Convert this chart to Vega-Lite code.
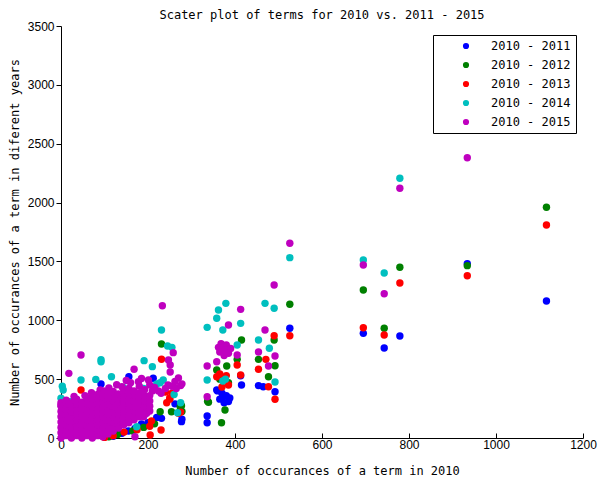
{
"$schema": "https://vega.github.io/schema/vega-lite/v6.json",
"autosize": "none",
"width": 522, "height": 412,
"padding": {"left": 61, "top": 26, "right": 15, "bottom": 40},
"background": "white",
"config": {"view": {"stroke": null}},
"title": {"text": "Scater plot of terms for 2010 vs. 2011 - 2015", "font": "DejaVu Sans Mono", "fontSize": 12, "fontWeight": "normal", "color": "black", "offset": -2},
"datasets": {
"b": [{"x":1116,"y":1164},{"x":934,"y":1481},{"x":779,"y":867},{"x":743,"y":765},{"x":695,"y":889},{"x":526,"y":932},{"x":492,"y":393},{"x":454,"y":445},{"x":465,"y":436},{"x":413,"y":529},{"x":415,"y":450},{"x":360,"y":400},{"x":370,"y":380},{"x":380,"y":360},{"x":388,"y":340},{"x":365,"y":330},{"x":375,"y":300},{"x":385,"y":310},{"x":336,"y":187},{"x":336,"y":130},{"x":372,"y":350},{"x":358,"y":408},{"x":277,"y":139},{"x":231,"y":167},{"x":220,"y":175},{"x":262,"y":290},{"x":278,"y":160},{"x":212,"y":507},{"x":156,"y":521},{"x":92,"y":459},{"x":48,"y":295},{"x":155,"y":60},{"x":140,"y":40},{"x":170,"y":80},{"x":200,"y":130},{"x":120,"y":15},{"x":185,"y":120},{"x":20,"y":50},{"x":50,"y":100},{"x":80,"y":150}],
"g": [{"x":1116,"y":1960},{"x":934,"y":1464},{"x":779,"y":1450},{"x":743,"y":932},{"x":695,"y":1257},{"x":526,"y":1136},{"x":492,"y":614},{"x":490,"y":833},{"x":477,"y":521},{"x":454,"y":668},{"x":415,"y":833},{"x":405,"y":668},{"x":358,"y":578},{"x":381,"y":612},{"x":339,"y":303},{"x":337,"y":313},{"x":369,"y":130},{"x":377,"y":238},{"x":365,"y":500},{"x":385,"y":470},{"x":231,"y":799},{"x":274,"y":266},{"x":254,"y":223},{"x":228,"y":223},{"x":200,"y":238},{"x":277,"y":275},{"x":278,"y":225},{"x":110,"y":10},{"x":130,"y":30},{"x":165,"y":60},{"x":190,"y":90},{"x":215,"y":120},{"x":60,"y":120},{"x":100,"y":200}],
"r": [{"x":1116,"y":1810},{"x":934,"y":1379},{"x":779,"y":1317},{"x":743,"y":875},{"x":695,"y":937},{"x":526,"y":869},{"x":492,"y":329},{"x":490,"y":869},{"x":454,"y":584},{"x":471,"y":668},{"x":477,"y":436},{"x":405,"y":620},{"x":413,"y":535},{"x":358,"y":520},{"x":365,"y":545},{"x":375,"y":500},{"x":385,"y":450},{"x":370,"y":433},{"x":380,"y":530},{"x":231,"y":669},{"x":240,"y":390},{"x":255,"y":380},{"x":250,"y":330},{"x":250,"y":340},{"x":243,"y":300},{"x":270,"y":210},{"x":275,"y":220},{"x":230,"y":68},{"x":205,"y":25},{"x":208,"y":145},{"x":204,"y":100},{"x":46,"y":408},{"x":120,"y":20},{"x":145,"y":50},{"x":175,"y":70},{"x":100,"y":5}],
"c": [{"x":779,"y":2206},{"x":743,"y":1402},{"x":695,"y":1512},{"x":526,"y":1532},{"x":492,"y":476},{"x":490,"y":1102},{"x":469,"y":1144},{"x":454,"y":833},{"x":479,"y":762},{"x":379,"y":1144},{"x":362,"y":1088},{"x":358,"y":1017},{"x":336,"y":940},{"x":413,"y":974},{"x":372,"y":918},{"x":405,"y":790},{"x":336,"y":493},{"x":372,"y":484},{"x":378,"y":500},{"x":231,"y":918},{"x":245,"y":782},{"x":255,"y":770},{"x":191,"y":657},{"x":210,"y":606},{"x":228,"y":470},{"x":235,"y":493},{"x":260,"y":370},{"x":275,"y":300},{"x":268,"y":215},{"x":174,"y":96},{"x":92,"y":648},{"x":92,"y":665},{"x":46,"y":493},{"x":80,"y":498},{"x":116,"y":521},{"x":143,"y":430},{"x":5,"y":408},{"x":0,"y":337},{"x":21,"y":308},{"x":3,"y":440},{"x":150,"y":320},{"x":180,"y":350},{"x":220,"y":459},{"x":190,"y":420}],
"m": [{"x":934,"y":2381},{"x":779,"y":2121},{"x":743,"y":1226},{"x":695,"y":1470},{"x":526,"y":1654},{"x":492,"y":697},{"x":490,"y":1300},{"x":469,"y":918},{"x":454,"y":730},{"x":477,"y":612},{"x":413,"y":1093},{"x":405,"y":705},{"x":385,"y":960},{"x":336,"y":612},{"x":336,"y":351},{"x":358,"y":648},{"x":365,"y":730},{"x":372,"y":760},{"x":380,"y":790},{"x":368,"y":800},{"x":385,"y":720},{"x":375,"y":700},{"x":362,"y":770},{"x":378,"y":745},{"x":390,"y":760},{"x":233,"y":1124},{"x":258,"y":725},{"x":247,"y":663},{"x":251,"y":560},{"x":251,"y":620},{"x":168,"y":584},{"x":178,"y":478},{"x":201,"y":493},{"x":246,"y":450},{"x":262,"y":480},{"x":278,"y":460},{"x":270,"y":510},{"x":210,"y":400},{"x":224,"y":400},{"x":190,"y":180},{"x":197,"y":210},{"x":170,"y":11},{"x":46,"y":705},{"x":18,"y":549},{"x":0,"y":280},{"x":90,"y":408},{"x":140,"y":436},
{"x":215,"y":430},{"x":230,"y":380},{"x":240,"y":420},{"x":255,"y":440},{"x":265,"y":420},{"x":275,"y":445},{"x":160,"y":470},{"x":128,"y":452},{"x":110,"y":425},{"x":70,"y":385},{"x":30,"y":352},{"x":150,"y":488},{"x":185,"y":505},{"x":55,"y":360},{"x":98,"y":400},
{"x":0,"y":0},{"x":0,"y":45},{"x":0,"y":90},{"x":0,"y":135},{"x":0,"y":180},{"x":0,"y":225},{"x":0,"y":270},{"x":0,"y":300},
{"x":12,"y":20},{"x":12,"y":65},{"x":12,"y":110},{"x":12,"y":155},{"x":12,"y":200},{"x":12,"y":245},{"x":12,"y":290},{"x":12,"y":320},
{"x":24,"y":0},{"x":24,"y":45},{"x":24,"y":90},{"x":24,"y":135},{"x":24,"y":180},{"x":24,"y":225},{"x":24,"y":270},{"x":24,"y":300},
{"x":36,"y":20},{"x":36,"y":65},{"x":36,"y":110},{"x":36,"y":155},{"x":36,"y":200},{"x":36,"y":245},{"x":36,"y":290},{"x":36,"y":330},
{"x":48,"y":0},{"x":48,"y":45},{"x":48,"y":90},{"x":48,"y":135},{"x":48,"y":180},{"x":48,"y":225},{"x":48,"y":270},{"x":48,"y":305},
{"x":60,"y":20},{"x":60,"y":65},{"x":60,"y":110},{"x":60,"y":155},{"x":60,"y":200},{"x":60,"y":245},{"x":60,"y":290},{"x":60,"y":340},
{"x":72,"y":0},{"x":72,"y":45},{"x":72,"y":90},{"x":72,"y":135},{"x":72,"y":180},{"x":72,"y":225},{"x":72,"y":270},{"x":72,"y":315},{"x":72,"y":335},
{"x":84,"y":20},{"x":84,"y":65},{"x":84,"y":110},{"x":84,"y":155},{"x":84,"y":200},{"x":84,"y":245},{"x":84,"y":290},{"x":84,"y":335},{"x":84,"y":370},
{"x":96,"y":10},{"x":96,"y":45},{"x":96,"y":90},{"x":96,"y":135},{"x":96,"y":180},{"x":96,"y":225},{"x":96,"y":270},{"x":96,"y":315},{"x":96,"y":350},
{"x":108,"y":35},{"x":108,"y":65},{"x":108,"y":110},{"x":108,"y":155},{"x":108,"y":200},{"x":108,"y":245},{"x":108,"y":290},{"x":108,"y":335},{"x":108,"y":380},
{"x":120,"y":60},{"x":120,"y":90},{"x":120,"y":135},{"x":120,"y":180},{"x":120,"y":225},{"x":120,"y":270},{"x":120,"y":315},{"x":120,"y":360},{"x":120,"y":395},
{"x":132,"y":85},{"x":132,"y":110},{"x":132,"y":155},{"x":132,"y":200},{"x":132,"y":245},{"x":132,"y":290},{"x":132,"y":335},{"x":132,"y":375},
{"x":144,"y":110},{"x":144,"y":135},{"x":144,"y":180},{"x":144,"y":225},{"x":144,"y":270},{"x":144,"y":315},{"x":144,"y":360},{"x":144,"y":410},
{"x":156,"y":130},{"x":156,"y":155},{"x":156,"y":200},{"x":156,"y":245},{"x":156,"y":290},{"x":156,"y":335},{"x":156,"y":380},{"x":156,"y":420},
{"x":168,"y":155},{"x":168,"y":180},{"x":168,"y":225},{"x":168,"y":270},{"x":168,"y":315},{"x":168,"y":360},{"x":168,"y":400},
{"x":180,"y":180},{"x":180,"y":200},{"x":180,"y":245},{"x":180,"y":290},{"x":180,"y":335},{"x":180,"y":380},{"x":180,"y":440},
{"x":192,"y":200},{"x":192,"y":225},{"x":192,"y":270},{"x":192,"y":315},{"x":192,"y":360},{"x":192,"y":410},
{"x":204,"y":230},{"x":204,"y":270},{"x":204,"y":315},{"x":204,"y":360},{"x":204,"y":450}]
},
"encoding": {
  "x": {"field": "x", "type": "quantitative", "scale": {"domain": [0, 1200], "nice": false},
    "axis": {"title": "Number of occurances of a term in 2010", "values": [0,200,400,600,800,1000,1200], "format": "d", "grid": false, "labelFlush": false,
      "domainColor": "black", "tickColor": "black", "tickSize": -5, "labelPadding": 6, "labelFont": "Liberation Sans", "labelFontSize": 12, "labelColor": "black",
      "titleFont": "DejaVu Sans Mono", "titleFontSize": 12, "titleFontWeight": "normal", "titleColor": "black", "titleY": 32, "titleBaseline": "middle"}},
  "y": {"field": "y", "type": "quantitative", "scale": {"domain": [0, 3500], "nice": false},
    "axis": {"title": "Number of occurances of a term in diferent years", "values": [0,500,1000,1500,2000,2500,3000,3500], "format": "d", "grid": false, "labelFlush": false,
      "domainColor": "black", "tickColor": "black", "tickSize": 5, "labelPadding": 2, "labelFont": "Liberation Sans", "labelFontSize": 12, "labelColor": "black",
      "titleFont": "DejaVu Sans Mono", "titleFontSize": 12, "titleFontWeight": "normal", "titleColor": "black", "titleX": -47, "titleY": 206, "titleBaseline": "middle", "titleAngle": -90}}
},
"layer": [
  {"data": {"name": "b"}, "mark": {"type": "circle", "size": 55, "opacity": 1}, "encoding": {"color": {"datum": "2010 - 2011", "type": "nominal",
    "scale": {"domain": ["2010 - 2011","2010 - 2012","2010 - 2013","2010 - 2014","2010 - 2015"], "range": ["#0000FF","#008000","#FF0000","#00BFBF","#BF00BF"]},
    "legend": {"orient": "none", "legendX": 372, "legendY": 9, "title": null, "strokeColor": "black", "fillColor": "white", "padding": 5, "symbolType": "circle", "symbolSize": 38, "symbolOffset": 22, "labelOffset": 19, "rowPadding": 7, "labelFont": "DejaVu Sans Mono", "labelFontSize": 12, "labelColor": "black", "symbolStrokeWidth": 0}}}},
  {"data": {"name": "g"}, "mark": {"type": "circle", "size": 55, "opacity": 1}, "encoding": {"color": {"datum": "2010 - 2012", "type": "nominal"}}},
  {"data": {"name": "r"}, "mark": {"type": "circle", "size": 55, "opacity": 1}, "encoding": {"color": {"datum": "2010 - 2013", "type": "nominal"}}},
  {"data": {"name": "c"}, "mark": {"type": "circle", "size": 55, "opacity": 1}, "encoding": {"color": {"datum": "2010 - 2014", "type": "nominal"}}},
  {"data": {"name": "m"}, "mark": {"type": "circle", "size": 55, "opacity": 1}, "encoding": {"color": {"datum": "2010 - 2015", "type": "nominal"}}}
]
}
